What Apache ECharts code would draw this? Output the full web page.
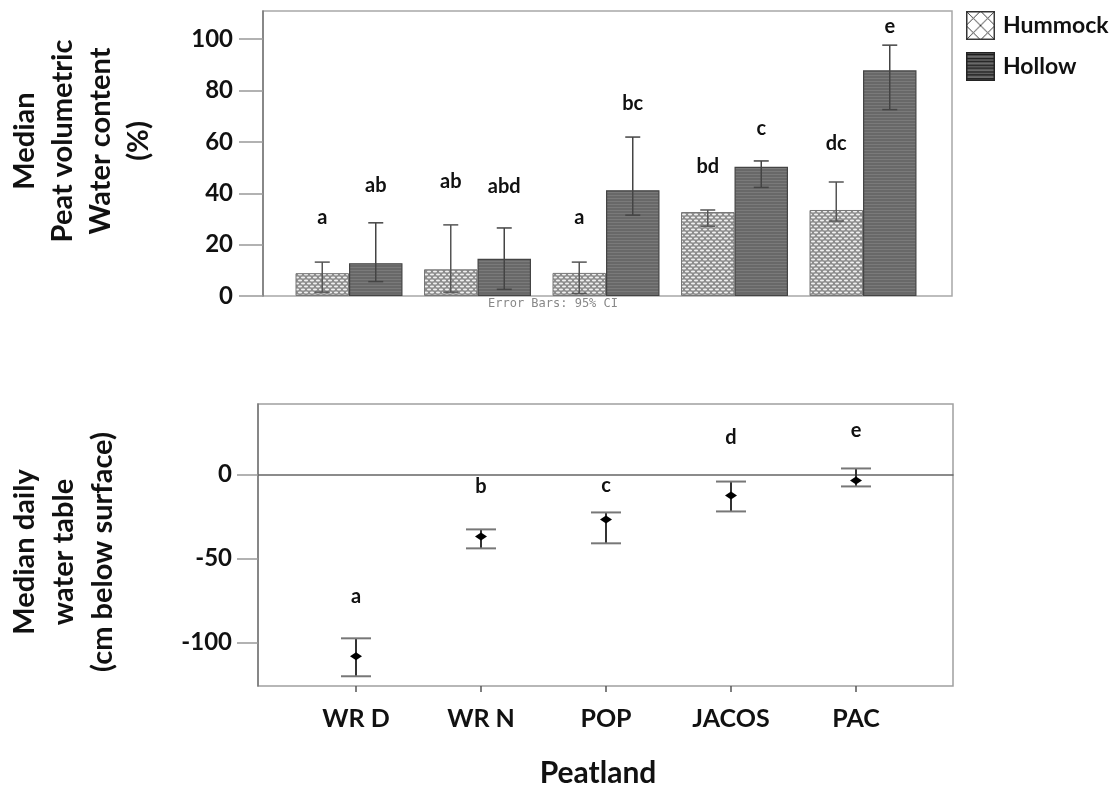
<!DOCTYPE html>
<html>
<head>
<meta charset="utf-8">
<script src="https://cdn.jsdelivr.net/npm/echarts@6/dist/echarts.min.js"></script>
<style>
  html, body { margin: 0; padding: 0; background: #fff; }
  #chart { width: 1114px; height: 788px; }
</style>
</head>
<body>
<div id="chart"></div>
<script>
// ---- Data -------------------------------------------------------------
const peatlands = ['WR D', 'WR N', 'POP', 'JACOS', 'PAC'];

// Peat volumetric water content (%), medians with 95% CI
const hummockMedian = [8.9, 10.4, 9.0, 32.7, 33.5];
const hummockLow    = [1.5, 1.5, 1.0, 27.2, 29.2];
const hummockHigh   = [13.2, 27.7, 13.2, 33.5, 44.4];
const hollowMedian  = [12.8, 14.5, 41.2, 50.3, 87.9];
const hollowLow     = [5.6, 2.6, 31.5, 42.3, 72.6];
const hollowHigh    = [28.5, 26.5, 61.9, 52.6, 97.7];

// Significance letters and the value level they sit at
const hummockLetters = ['a', 'ab', 'a', 'bd', 'dc'];
const hummockLetterAt = [30.4, 44.4, 30.7, 50.6, 59.5];
const hollowLetters  = ['ab', 'abd', 'bc', 'c', 'e'];
const hollowLetterAt = [43.2, 42.8, 75.1, 65.4, 105.1];

// Median daily water table (cm below surface) with 95% CI
const waterTable     = [-108.3, -36.9, -26.8, -12.5, -3.6];
const waterTableLow  = [-120.2, -44.0, -41.0, -22.0, -7.1];
const waterTableHigh = [-97.6, -32.7, -22.6, -4.2, 3.6];
const wtLetters  = ['a', 'b', 'c', 'd', 'e'];
const wtLetterAt = [-72.6, -7.1, -6.5, 22.0, 26.2];

// Tick labels
const contentTicks = [0, 20, 40, 60, 80, 100];
const tableTicks = [-100, -50, 0];

// ---- Fill patterns ----------------------------------------------------
function makeCanvas(w, h, draw) {
  const c = document.createElement('canvas');
  c.width = w; c.height = h;
  draw(c.getContext('2d'), w, h);
  return c;
}
// fine woven texture for hummock bars
const hummockTile = makeCanvas(6, 6, (g) => {
  g.fillStyle = '#8c8c8c'; g.fillRect(0, 0, 6, 6);
  g.fillStyle = '#f0f0f0';
  g.beginPath(); g.ellipse(3, 1.5, 2.1, 0.9, 0, 0, Math.PI * 2); g.fill();
  g.beginPath(); g.ellipse(0, 4.5, 2.1, 0.9, 0, 0, Math.PI * 2); g.fill();
  g.beginPath(); g.ellipse(6, 4.5, 2.1, 0.9, 0, 0, Math.PI * 2); g.fill();
});
// horizontal striping for hollow bars
const hollowTile = makeCanvas(4, 3, (g) => {
  g.fillStyle = '#686868'; g.fillRect(0, 0, 4, 3);
  g.fillStyle = '#7a7a7a'; g.fillRect(0, 0, 4, 1);
});
// legend swatches
const hummockIcon = makeCanvas(30, 30, (g) => {
  g.fillStyle = '#fff'; g.fillRect(0, 0, 30, 30);
  g.strokeStyle = '#333'; g.lineWidth = 1;
  g.beginPath();
  [[0, 0, 30, 30], [0, 15, 15, 30], [15, 0, 30, 15],
   [30, 0, 0, 30], [30, 15, 15, 30], [15, 0, 0, 15]].forEach(([a, b, c, d]) => {
    g.moveTo(a, b); g.lineTo(c, d);
  });
  g.stroke();
  g.lineWidth = 1.5; g.strokeRect(0.75, 0.75, 28.5, 28.5);
});
const hollowIcon = makeCanvas(30, 30, (g) => {
  g.fillStyle = '#6a6a6a'; g.fillRect(0, 0, 30, 30);
  g.fillStyle = '#1a1a1a';
  for (let y = 2; y < 30; y += 3.5) g.fillRect(0, Math.round(y), 30, 1.4);
  g.strokeStyle = '#222'; g.lineWidth = 1.5; g.strokeRect(0.75, 0.75, 28.5, 28.5);
});

// ---- Helpers ----------------------------------------------------------
const FONT = 'Lato';
const BAR_W = 53.5;

function ciTriples(low, high) { return low.map((v, i) => [i, v, high[i]]); }
function letterPoints(at) { return at.map((v, i) => [i, v]); }

// vertical CI whisker shifted sideways by `shift` px
function whisker(shift, capHalf, stemColor, capColor, width) {
  return function (params, api) {
    const i = api.value(0);
    const lo = api.coord([i, api.value(1)]);
    const hi = api.coord([i, api.value(2)]);
    const x = lo[0] + shift;
    return {
      type: 'group',
      children: [
        { type: 'line', shape: { x1: x, y1: hi[1], x2: x, y2: lo[1] },
          style: { stroke: stemColor, lineWidth: width } },
        { type: 'line', shape: { x1: x - capHalf, y1: hi[1], x2: x + capHalf, y2: hi[1] },
          style: { stroke: capColor, lineWidth: width } },
        { type: 'line', shape: { x1: x - capHalf, y1: lo[1], x2: x + capHalf, y2: lo[1] },
          style: { stroke: capColor, lineWidth: width } }
      ]
    };
  };
}

function letterText(shift, letters, size) {
  return function (params, api) {
    const p = api.coord([api.value(0), api.value(1)]);
    return {
      type: 'text',
      x: p[0] + shift, y: p[1],
      style: { text: letters[params.dataIndex], font: 'bold ' + size + 'px ' + FONT,
               fill: '#111', align: 'center', verticalAlign: 'middle' }
    };
  };
}

function medianMarker(params, api) {
  const p = api.coord([api.value(0), api.value(1)]);
  return {
    type: 'polygon',
    shape: { points: [[p[0] - 6, p[1]], [p[0], p[1] - 4], [p[0] + 6, p[1]], [p[0], p[1] + 4]] },
    style: { fill: '#000' }
  };
}

// ---- Chart ------------------------------------------------------------
const chart = echarts.init(document.getElementById('chart'), null, { renderer: 'canvas' });

chart.setOption({
  backgroundColor: '#fff',
  animation: false,
  textStyle: { fontFamily: FONT },
  legend: {
    orient: 'vertical', left: 961, top: 6,
    itemWidth: 29, itemHeight: 29, itemGap: 12,
    selectedMode: false,
    textStyle: { fontFamily: FONT, fontWeight: 'bold', fontSize: 23, color: '#111', padding: [0, 0, 0, 3] },
    data: [
      { name: 'Hummock', icon: 'image://' + hummockIcon.toDataURL() },
      { name: 'Hollow', icon: 'image://' + hollowIcon.toDataURL() }
    ]
  },
  grid: [
    { left: 284.75, top: 11, width: 642.5, height: 285 },                 // bars
    { left: 263, top: 11, width: 689, height: 285, show: true,            // frame (top)
      borderColor: '#a8a8a8', borderWidth: 1.5, backgroundColor: 'transparent' },
    { left: 293.5, top: 404, width: 625, height: 282 },                   // water table points
    { left: 258, top: 404, width: 695, height: 282, show: true,           // frame (bottom)
      borderColor: '#a0a0a0', borderWidth: 1.5, backgroundColor: 'transparent' }
  ],
  xAxis: [
    { type: 'category', gridIndex: 0, data: peatlands, axisLine: { show: false, onZero: false },
      axisTick: { show: false }, axisLabel: { show: false } },
    { type: 'value', gridIndex: 1, min: 0, max: 1, show: false },
    { type: 'category', gridIndex: 2, data: peatlands,
      axisLine: { show: false, onZero: false },
      axisTick: { show: true, alignWithLabel: true, length: 6, lineStyle: { color: '#555', width: 1.5 } },
      axisLabel: { fontFamily: FONT, fontWeight: 'bold', fontSize: 25, color: '#111', margin: 20 } },
    // zero reference line across the frame
    { type: 'value', gridIndex: 3, min: 0, max: 1,
      axisLine: { show: true, onZero: true, lineStyle: { color: '#666', width: 1.5 } },
      axisTick: { show: false }, axisLabel: { show: false }, splitLine: { show: false } }
  ],
  yAxis: [
    { type: 'value', gridIndex: 0, min: 0, max: 111, show: false },
    { type: 'value', gridIndex: 1, min: 0, max: 111,
      axisLine: { show: true, lineStyle: { color: '#777', width: 1.5 } },
      axisTick: { show: true, length: 24, customValues: contentTicks, lineStyle: { color: '#999', width: 1.5 } },
      axisLabel: { customValues: contentTicks, fontFamily: FONT, fontWeight: 'bold', fontSize: 24, color: '#111', margin: 30 },
      splitLine: { show: false } },
    { type: 'value', gridIndex: 2, min: -126, max: 42, show: false },
    { type: 'value', gridIndex: 3, min: -126, max: 42,
      axisLine: { show: true, lineStyle: { color: '#777', width: 1.5 } },
      axisTick: { show: true, length: 21, customValues: tableTicks, lineStyle: { color: '#999', width: 1.5 } },
      axisLabel: { customValues: tableTicks, fontFamily: FONT, fontWeight: 'bold', fontSize: 24, color: '#111', margin: 26 },
      splitLine: { show: false } }
  ],
  graphic: [
    { type: 'text', x: 82, y: 141, rotation: Math.PI / 2,
      style: { text: 'Median\nPeat volumetric\nWater content\n(%)', font: 'bold 29px ' + FONT,
               fill: '#111', align: 'center', verticalAlign: 'middle', lineHeight: 38 } },
    { type: 'text', x: 64, y: 552, rotation: Math.PI / 2,
      style: { text: 'Median daily\nwater table\n(cm below surface)', font: 'bold 29px ' + FONT,
               fill: '#111', align: 'center', verticalAlign: 'middle', lineHeight: 39 } },
    { type: 'text', x: 598, y: 773,
      style: { text: 'Peatland', font: 'bold 30px ' + FONT, fill: '#111', align: 'center', verticalAlign: 'middle' } },
    { type: 'text', x: 553, y: 304,
      style: { text: 'Error Bars: 95% CI', font: '12px "DejaVu Sans Mono"', fill: '#888', align: 'center', verticalAlign: 'middle' } }
  ],
  series: [
    { name: 'Hummock', type: 'bar', xAxisIndex: 0, yAxisIndex: 0, barWidth: BAR_W, barGap: '0%',
      data: hummockMedian,
      itemStyle: { color: { image: hummockTile, repeat: 'repeat' }, borderColor: '#777', borderWidth: 1 } },
    { name: 'Hollow', type: 'bar', xAxisIndex: 0, yAxisIndex: 0, barWidth: BAR_W, barGap: '0%',
      data: hollowMedian,
      itemStyle: { color: { image: hollowTile, repeat: 'repeat' }, borderColor: '#444', borderWidth: 1.2 } },
    { type: 'custom', xAxisIndex: 0, yAxisIndex: 0, z: 5, silent: true,
      renderItem: whisker(-BAR_W / 2, 7.5, '#555', '#555', 1.5),
      data: ciTriples(hummockLow, hummockHigh) },
    { type: 'custom', xAxisIndex: 0, yAxisIndex: 0, z: 5, silent: true,
      renderItem: whisker(BAR_W / 2, 7.5, '#444', '#444', 1.5),
      data: ciTriples(hollowLow, hollowHigh) },
    { type: 'custom', xAxisIndex: 0, yAxisIndex: 0, z: 6, silent: true,
      renderItem: letterText(-BAR_W / 2, hummockLetters, 20),
      data: letterPoints(hummockLetterAt) },
    { type: 'custom', xAxisIndex: 0, yAxisIndex: 0, z: 6, silent: true,
      renderItem: letterText(BAR_W / 2, hollowLetters, 20),
      data: letterPoints(hollowLetterAt) },
    { type: 'custom', xAxisIndex: 2, yAxisIndex: 2, z: 5, silent: true,
      renderItem: whisker(0, 15, '#333', '#777', 2),
      data: ciTriples(waterTableLow, waterTableHigh) },
    { type: 'custom', xAxisIndex: 2, yAxisIndex: 2, z: 6, silent: true,
      renderItem: medianMarker,
      data: letterPoints(waterTable) },
    { type: 'custom', xAxisIndex: 2, yAxisIndex: 2, z: 6, silent: true,
      renderItem: letterText(0, wtLetters, 20),
      data: letterPoints(wtLetterAt) }
  ]
});
</script>
</body>
</html>
